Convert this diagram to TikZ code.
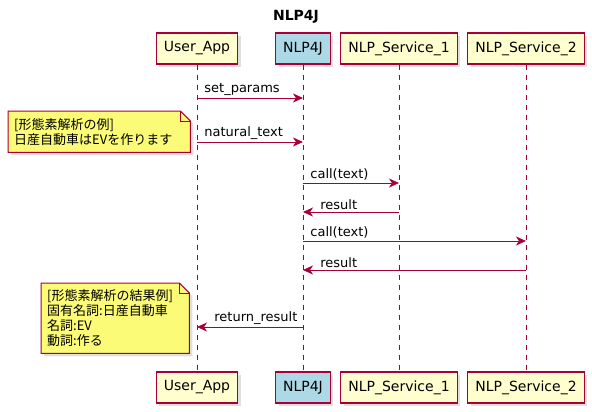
\documentclass[tikz,border=0pt]{standalone}
\usepackage{fontspec}
\setmainfont{DejaVu Sans}
\newfontfamily\jpfont{Noto Sans CJK JP}
\usepackage{xcolor}
\definecolor{crimson}{HTML}{A80036}
\definecolor{cream}{HTML}{FEFECE}
\definecolor{skyblue}{HTML}{ADD8E6}
\definecolor{notefill}{HTML}{FBFB77}
\usetikzlibrary{positioning,arrows.meta,shadows,backgrounds}
\tikzset{
  part/.style={draw=crimson, line width=1.2pt, fill=cream, font=\fontsize{14}{16}\selectfont, minimum height=31pt, inner xsep=7.5pt, drop shadow={shadow xshift=3pt, shadow yshift=-3pt, opacity=0.25}},
  hub/.style={part, fill=skyblue},
  lifeline/.style={crimson, dash pattern=on 5pt off 5pt, line width=0.8pt},
  msg/.style={-{Stealth[length=10pt, width=9pt, inset=3pt]}, crimson, line width=0.8pt},
  lbl/.style={font=\fontsize{13}{15}\selectfont, text=black, inner sep=0pt, anchor=south west, yshift=2pt},
  remark/.style={font=\jpfont\fontsize{13}{15}\selectfont, align=left, anchor=north west, inner xsep=6pt, inner ysep=0pt},
  remarkbox/.style={draw=crimson, line width=1pt, fill=notefill, drop shadow={shadow xshift=3pt, shadow yshift=-3pt, opacity=0.25}},
}

\begin{document}
\begin{tikzpicture}[x=1pt, y=-1pt]
  \useasboundingbox (0,0) rectangle (592,412);
  \node[font=\bfseries\fontsize{14}{16}\selectfont] (title) at (296,17) {NLP4J};
  \node[part] (ua) at (197,48.5) {User\_App};
  \node[hub] (nl) at (303,48.5) {NLP4J};
  \node[part] (s1) at (399,48.5) {NLP\_Service\_1};
  \node[part] (s2) at (526,48.5) {NLP\_Service\_2};
  \node[part] (ub) at (197,387.5) {User\_App};
  \node[hub] (nb) at (303,387.5) {NLP4J};
  \node[part] (s1b) at (399,387.5) {NLP\_Service\_1};
  \node[part] (s2b) at (526,387.5) {NLP\_Service\_2};
  \draw[lifeline] (ua) -- (ub);
  \draw[lifeline] (nl) -- (nb);
  \draw[lifeline] (s1) -- (s1b);
  \draw[lifeline] (s2) -- (s2b);

  \coordinate (r1) at (0,98);
  \coordinate (r2) at (0,142);
  \coordinate (r3) at (0,183);
  \coordinate (r4) at (0,212);
  \coordinate (r5) at (0,241);
  \coordinate (r6) at (0,270);
  \coordinate (r7) at (0,327);
  \draw[msg] (ua |- r1) -- (nl |- r1) node[lbl, at start, xshift=7pt] {set\_params};
  \draw[msg] (ua |- r2) -- (nl |- r2) node[lbl, at start, xshift=7pt] {natural\_text};
  \draw[msg] (nl |- r3) -- (s1 |- r3) node[lbl, at start, xshift=7pt] {call(text)};
  \draw[msg] (s1 |- r4) -- (nl |- r4) node[lbl, at end, xshift=17pt] {result};
  \draw[msg] (nl |- r5) -- (s2 |- r5) node[lbl, at start, xshift=7pt] {call(text)};
  \draw[msg] (s2 |- r6) -- (nl |- r6) node[lbl, at end, xshift=17pt] {result};
  \draw[msg] (nl |- r7) -- (ua |- r7) node[lbl, at end, xshift=17pt] {return\_result};

  \node[remark, text width=170pt, minimum height=41pt] (n1) at (8,111) {[形態素解析の例]\\日産自動車はEVを作ります};
  \node[remark, text width=136pt, minimum height=70pt] (n2) at (41,283) {[形態素解析の結果例]\\固有名詞:日産自動車\\名詞:EV\\動詞:作る};
  \begin{scope}[on background layer]
    \foreach \n in {n1,n2} {
      \filldraw[remarkbox] (\n.north west) -- ([xshift=-10pt]\n.north east) -- ([yshift=-10pt]\n.north east) -- (\n.south east) -- (\n.south west) -- cycle;
      \draw[crimson, line width=1pt] ([xshift=-10pt]\n.north east) -- ([xshift=-10pt, yshift=-10pt]\n.north east) -- ([yshift=-10pt]\n.north east);
    }
  \end{scope}
\end{tikzpicture}
\end{document}
